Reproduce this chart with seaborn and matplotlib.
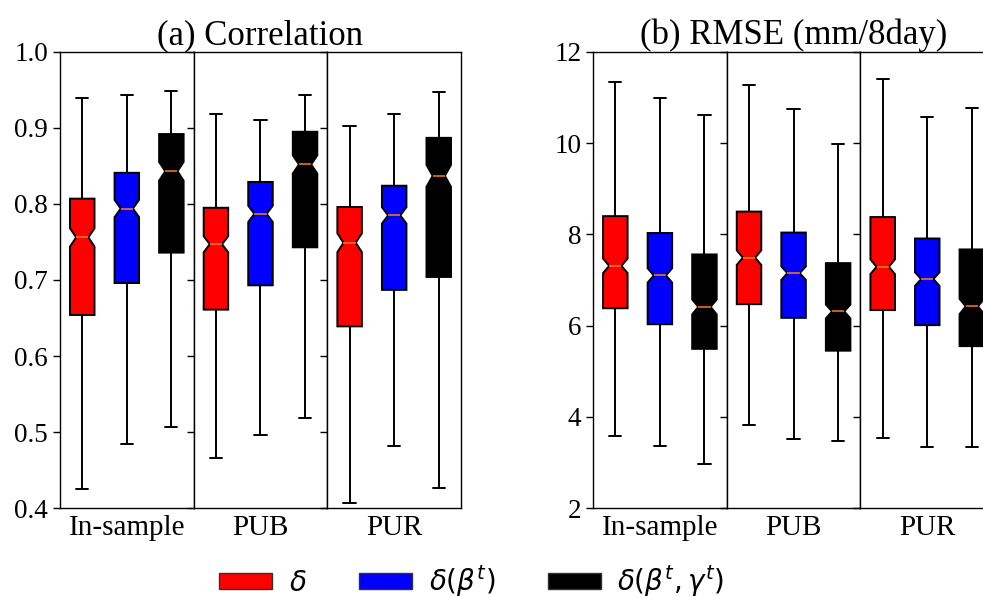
import numpy as np
import pandas as pd
import matplotlib
matplotlib.use("Agg")
import matplotlib.pyplot as plt
from matplotlib.patches import Patch
import seaborn as sns

# groups, models and colours
regions = ["In-sample", "PUB", "PUR"]
models = [r"$\delta$", r"$\delta(\beta^t)$", r"$\delta(\beta^t,\gamma^t)$"]
colors = ["red", "blue", "black"]

# five-number summaries: min, q1, median, q3, max
corr_insample = [[0.425, 0.654, 0.756, 0.807, 0.939],
                 [0.484, 0.696, 0.794, 0.841, 0.943],
                 [0.507, 0.736, 0.843, 0.892, 0.949]]
corr_pub = [[0.466, 0.661, 0.747, 0.795, 0.918],
            [0.496, 0.693, 0.787, 0.829, 0.911],
            [0.519, 0.743, 0.852, 0.895, 0.944]]
corr_pur = [[0.407, 0.639, 0.749, 0.796, 0.902],
            [0.482, 0.687, 0.785, 0.824, 0.918],
            [0.427, 0.704, 0.837, 0.887, 0.947]]

rmse_insample = [[3.59, 6.38, 7.31, 8.40, 11.35],
                 [3.36, 6.03, 7.10, 8.03, 11.00],
                 [2.96, 5.49, 6.41, 7.56, 10.62]]
rmse_pub = [[3.81, 6.47, 7.49, 8.50, 11.28],
            [3.52, 6.17, 7.15, 8.04, 10.75],
            [3.48, 5.45, 6.31, 7.37, 9.98]]
rmse_pur = [[3.53, 6.34, 7.29, 8.38, 11.40],
            [3.34, 6.01, 7.02, 7.91, 10.58],
            [3.34, 5.55, 6.42, 7.67, 10.76]]

# each summary value repeated this many times (~400 basins per box,
# which gives the notch size seen in the figure)
n_rep = 80


def make_frame(groups):
    rows = []
    for region, summ in zip(regions, groups):
        for model, five in zip(models, summ):
            for v in five:
                rows += [(region, model, v)] * n_rep
    return pd.DataFrame(rows, columns=["region", "model", "value"])


corr_df = make_frame([corr_insample, corr_pub, corr_pur])
rmse_df = make_frame([rmse_insample, rmse_pub, rmse_pur])

sns.set_style("ticks")
plt.rcParams["font.family"] = ["Liberation Serif", "DejaVu Sans"]
plt.rcParams["mathtext.fontset"] = "dejavusans"
plt.rcParams["axes.linewidth"] = 1.0
plt.rcParams["text.color"] = "black"
plt.rcParams["xtick.color"] = "black"
plt.rcParams["ytick.color"] = "black"
plt.rcParams["axes.edgecolor"] = "black"

fig = plt.figure(figsize=(9.83, 5.97), dpi=100)

panels = [
    (corr_df, 0.0610, "(a) Correlation", (0.4, 1.0), np.arange(0.4, 1.01, 0.1), "{:.1f}"),
    (rmse_df, 0.6033, "(b) RMSE (mm/8day)", (2, 12), np.arange(2, 13, 2), "{:.0f}"),
]
w = 0.1360
bottom, height = 0.149, 0.764

for df, left0, title, ylim, yticks, fmt in panels:
    for i, region in enumerate(regions):
        ax = fig.add_axes([left0 + i * w, bottom, w, height])
        sub = df[df["region"] == region]
        sns.boxplot(data=sub, x="model", y="value", hue="model",
                    order=models, hue_order=models, palette=colors,
                    saturation=1, notch=True, whis=(0, 100), width=0.55,
                    showfliers=False, linecolor="black", linewidth=1.4,
                    legend=False,
                    medianprops=dict(color="#ff7f0e", linewidth=1.1),
                    ax=ax)
        ax.set_ylim(*ylim)
        ax.set_yticks(yticks)
        ax.set_yticklabels([fmt.format(t) for t in yticks])
        ax.set_xticks([1])
        ax.set_xticklabels([region])
        ax.set_xlabel("")
        ax.set_ylabel("")
        ax.tick_params(axis="y", direction="out", length=5, width=1,
                       labelsize=19.5, labelleft=(i == 0))
        ax.tick_params(axis="x", length=0, labelsize=21, pad=5)
        for sp in ax.spines.values():
            sp.set_visible(True)
            sp.set_linewidth(1.0)
            sp.set_color("black")
        if i == 1:
            ax.set_title(title, fontsize=25, pad=5)

handles = [Patch(facecolor=c, edgecolor="#333333", linewidth=1, label=m)
           for c, m in zip(colors, models)]
fig.legend(handles=handles, loc="upper center", bbox_to_anchor=(0.48, 0.098),
           ncol=3, frameon=False, fontsize=20, handlelength=1.9,
           handleheight=0.5, handletextpad=0.6, columnspacing=1.9)

fig.savefig("out.png", dpi=100)
